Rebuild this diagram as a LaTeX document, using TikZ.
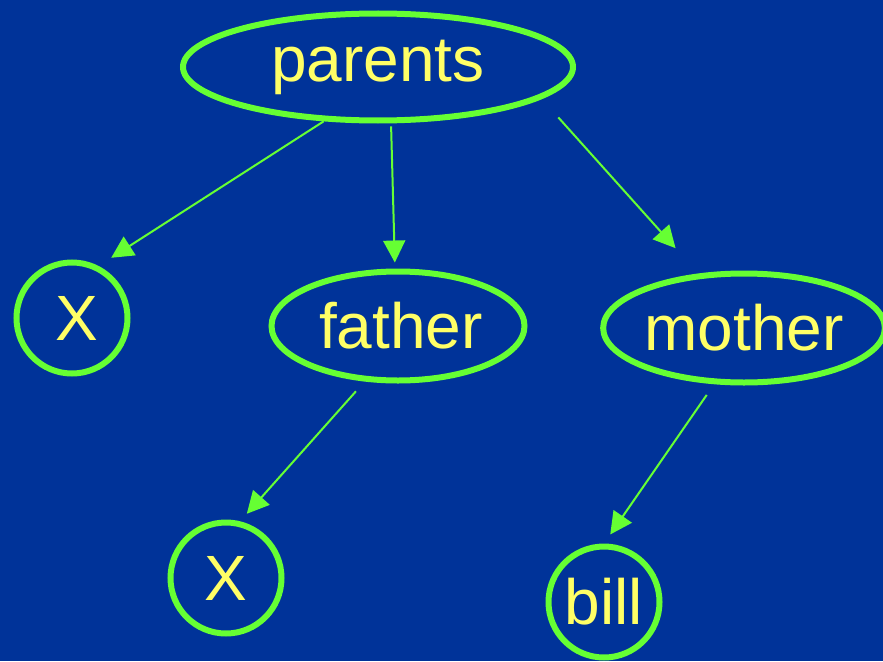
\documentclass[tikz,border=0pt]{standalone}
\usepackage{fontspec}
\setmainfont{Liberation Sans}
\usetikzlibrary{shapes.geometric,arrows.meta}
\definecolor{bgblue}{HTML}{003399}
\definecolor{treegreen}{HTML}{66FF33}
\definecolor{labelyellow}{HTML}{FFFF66}
\begin{document}
\begin{tikzpicture}[x=1pt,y=-1pt,
  term/.style={draw=treegreen,line width=6pt,text=labelyellow,inner sep=0pt,
    font=\fontsize{64}{70}\selectfont},
  functor/.style={term,ellipse},
  atom/.style={term,circle,minimum size=111pt},
  link/.style={draw=treegreen,line width=2pt,-{Triangle[length=22pt,width=22pt]}}]
  \fill[bgblue] (0,0) rectangle (883,661);
  \useasboundingbox (0,0) rectangle (883,661);

  % terms of the tree
  \node[functor,minimum width=390pt,minimum height=107pt] (parents) at (378,67) {parents};
  \node[atom] (x1) at (72,318) {\hspace*{10pt}X};
  \node[functor,minimum width=253pt,minimum height=109pt] (father) at (398,326) {\hspace*{6pt}father};
  \node[functor,minimum width=273pt,minimum height=109pt] (mother) at (744,328) {mother};
  \node[atom] (x2) at (226,578) {X};
  \node[atom] (bill) at (604,602) {bill};

  % argument links
  \draw[link,shorten >=15pt] (parents.225) -- (x1.63);
  \draw[link,shorten <=3pt,shorten >=6pt] (parents.283) -- (father.93);
  \draw[link,shorten <=25pt,shorten >=34pt] (parents.349) -- (mother.130);
  \draw[link,shorten <=13pt,shorten >=10pt] (father.239) -- (x2.76);
  \draw[link,shorten <=13pt,shorten >=11pt] (mother.242) -- (bill.90);
\end{tikzpicture}
\end{document}
